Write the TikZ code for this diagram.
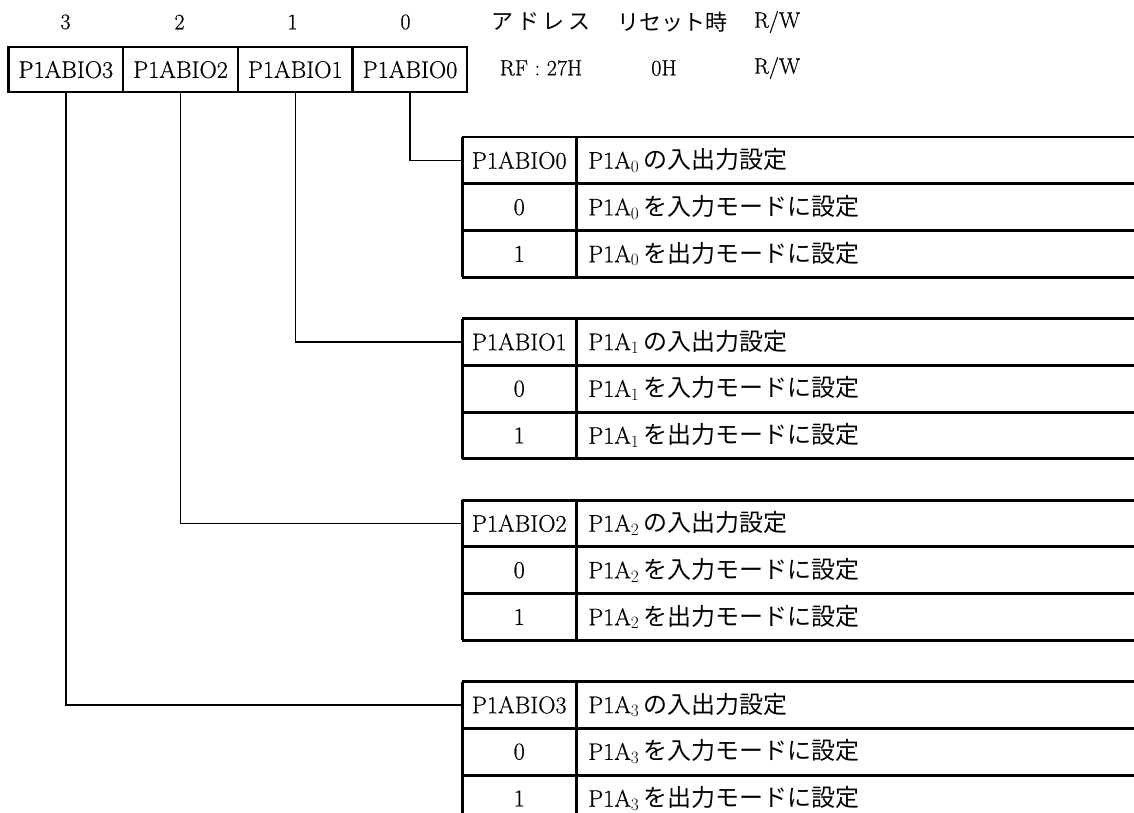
\documentclass[tikz,border=0pt]{standalone}
\usepackage{fontspec}
\setmainfont{Latin Modern Roman}[FakeBold=0.6]
\newfontfamily\jp{Noto Sans CJK JP}
\newcommand{\bigf}{\fontsize{24}{28}\selectfont}
\newcommand{\midf}{\fontsize{22}{26}\selectfont}
\begin{document}
\begin{tikzpicture}[x=1pt,y=-1pt,
  regcell/.style={draw, line width=1.2pt, minimum width=113.5pt, minimum height=44pt, inner sep=0pt, anchor=north west, font=\bigf},
  lcell/.style={draw, line width=1.5pt, minimum width=113pt, minimum height=45.3pt, inner sep=0pt, anchor=north west, font=\bigf},
  rcell/.style={draw, line width=1.5pt, text width=580pt, align=left, inner xsep=11pt, inner ysep=0pt, minimum height=45.3pt, anchor=north west, font=\bigf},
  outer/.style={line width=2.2pt},
  conn/.style={line width=1.4pt},
  bitlbl/.style={font=\fontsize{22}{24}\selectfont, inner sep=0pt},
  hdr/.style={font=\midf, inner sep=0pt}
]
\useasboundingbox (0,0) rectangle (1134,813);
\clip (0,0) rectangle (1134,813);

% bit numbers
\node[bitlbl] (b3) at (65.5,22) {3};
\node[bitlbl] (b2) at (179.5,22) {2};
\node[bitlbl] (b1) at (292.5,22) {1};
\node[bitlbl] (b0) at (405.5,22) {0};

% register
\node[regcell] (r3) at (8.5,47) {P1ABIO3};
\node[regcell] (r2) at (r3.north east) {P1ABIO2};
\node[regcell] (r1) at (r2.north east) {P1ABIO1};
\node[regcell] (r0) at (r1.north east) {P1ABIO0};
\draw[outer] (r3.north west) rectangle (r0.south east);

% header info
\node[hdr] (ha) at (541,22) {\jp ア\,ド\,レ\,ス};
\node[hdr] (hr) at (672,22) {\jp リセット時};
\node[hdr] (hw) at (777,22) {R/W};
\node[hdr] (va) at (541,68) {RF : 27H};
\node[hdr] (vr) at (664,68) {0H};
\node[hdr] (vw) at (777,68) {R/W};

% tables
\foreach \k/\y in {0/137,1/318.5,2/500,3/681.5}{
  \node[lcell] (h\k) at (462,\y) {P1ABIO\k};
  \node[rcell] (d\k) at (h\k.north east) {P1A$_{\k}$\,{\jp の入出力設定}};
  \node[lcell] (z\k) at (h\k.south west) {0};
  \node[rcell] (zd\k) at (z\k.north east) {P1A$_{\k}$\,{\jp を入力モードに設定}};
  \node[lcell] (o\k) at (z\k.south west) {1};
  \node[rcell] (od\k) at (o\k.north east) {P1A$_{\k}$\,{\jp を出力モードに設定}};
  \draw[outer] (h\k.north west) -- (o\k.south west);
  \draw[outer] (h\k.north west) -- (d\k.north east);
  \draw[outer] (o\k.south west) -- (od\k.south east);
}

% connectors
\draw[conn] (r0.south) |- (h0.west);
\draw[conn] (r1.south) |- (h1.west);
\draw[conn] (r2.south) |- (h2.west);
\draw[conn] (r3.south) |- (h3.west);
\end{tikzpicture}
\end{document}
